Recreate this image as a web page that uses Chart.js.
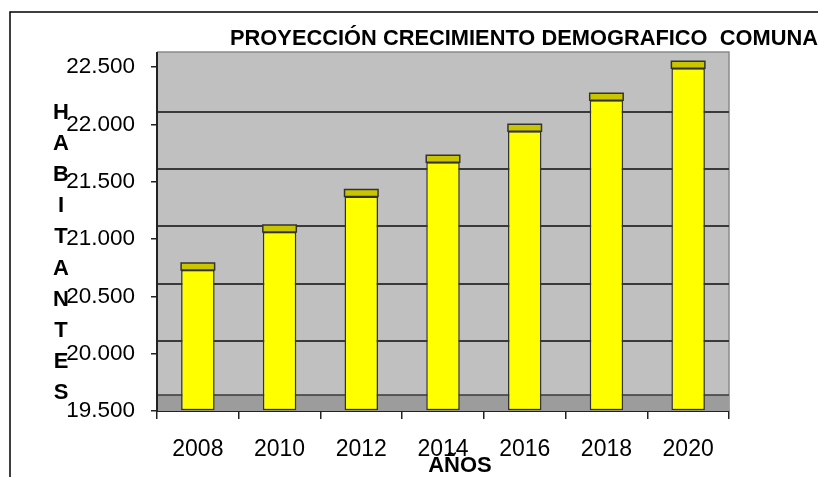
<!DOCTYPE html>
<html>
<head>
<meta charset="utf-8">
<script src="https://cdn.jsdelivr.net/npm/chart.js@4.4.1/dist/chart.umd.min.js"></script>
<style>
  html, body { margin: 0; padding: 0; background: #fff; }
  #wrap { position: relative; width: 818px; height: 477px; }
</style>
</head>
<body>
<div id="wrap"><canvas id="chart" width="818" height="477"></canvas></div>
<script>
// Data
const years = ['2008', '2010', '2012', '2014', '2016', '2018', '2020'];
const habitantes = [20730, 21060, 21370, 21670, 21940, 22210, 22490];
const yTicks = [19500, 20000, 20500, 21000, 21500, 22000, 22500];
const titleText = 'PROYECCIÓN CRECIMIENTO DEMOGRAFICO  COMUNA';
const yTitle = 'HABITANTES';
const xTitle = 'AÑOS';

const FONT = '"Liberation Sans", Arial, sans-serif';
const DARK = '#222';

// 22500 -> "22.500"
function fmt(v) {
    return String(v).replace(/\B(?=(\d{3})+(?!\d))/g, '.');
}

// Frame, back wall, gridlines and floor (3D look)
const wallPlugin = {
    id: 'wall',
    beforeDatasetsDraw(chart) {
        const ctx = chart.ctx;
        const area = chart.chartArea;
        const y = chart.scales.y;
        const top = y.getPixelForValue(yTicks[yTicks.length - 1]) - 15;
        const floorTop = y.getPixelForValue(yTicks[0]) - 16;
        const floorBottom = y.getPixelForValue(yTicks[0]);
        ctx.save();

        // outer frame
        ctx.strokeStyle = '#000';
        ctx.lineWidth = 1.5;
        ctx.beginPath();
        ctx.moveTo(10, chart.height);
        ctx.lineTo(10, 12);
        ctx.lineTo(chart.width, 12);
        ctx.stroke();

        // wall
        ctx.fillStyle = '#c0c0c0';
        ctx.fillRect(area.left, top, area.right - area.left, floorTop - top);
        ctx.strokeStyle = '#8a8a8a';
        ctx.lineWidth = 1.5;
        ctx.beginPath();
        ctx.moveTo(area.left, top);
        ctx.lineTo(area.right, top);
        ctx.lineTo(area.right, floorBottom);
        ctx.stroke();

        // gridlines on the back wall
        ctx.strokeStyle = '#3a3a3a';
        ctx.lineWidth = 2;
        yTicks.slice(1, -1).forEach(v => {
            const py = Math.round(y.getPixelForValue(v) - 12.7);
            ctx.beginPath();
            ctx.moveTo(area.left, py);
            ctx.lineTo(area.right, py);
            ctx.stroke();
        });

        // floor
        ctx.fillStyle = '#9c9c9c';
        ctx.fillRect(area.left, floorTop, area.right - area.left, floorBottom - floorTop);
        ctx.strokeStyle = '#3a3a3a';
        ctx.lineWidth = 1.5;
        ctx.beginPath();
        ctx.moveTo(area.left, floorTop);
        ctx.lineTo(area.right, floorTop);
        ctx.stroke();

        // left axis line up to the top of the wall
        ctx.strokeStyle = DARK;
        ctx.lineWidth = 2;
        ctx.beginPath();
        ctx.moveTo(area.left, top);
        ctx.lineTo(area.left, floorBottom);
        ctx.stroke();
        ctx.restore();
    },
    // darker cap on top of every bar
    afterDatasetsDraw(chart) {
        const ctx = chart.ctx;
        ctx.save();
        chart.getDatasetMeta(0).data.forEach(bar => {
            const w = bar.width;
            ctx.fillStyle = '#c9c600';
            ctx.strokeStyle = '#333';
            ctx.lineWidth = 1.5;
            ctx.beginPath();
            ctx.rect(bar.x - w / 2, bar.y - 7, w, 7);
            ctx.fill();
            ctx.stroke();
        });
        ctx.restore();
    },
    afterDraw(chart) {
        const ctx = chart.ctx;
        ctx.save();
        ctx.fillStyle = '#000';
        ctx.font = 'bold 22px ' + FONT;
        ctx.textBaseline = 'alphabetic';

        // chart title
        ctx.textAlign = 'left';
        ctx.fillText(titleText, 230, 45, 588);

        // vertical axis title, one letter per line
        ctx.font = 'bold 22px ' + FONT;
        ctx.textAlign = 'center';
        ctx.textBaseline = 'middle';
        yTitle.split('').forEach((ch, i) => {
            ctx.fillText(ch, 61, 113 + i * 31.1);
        });

        // horizontal axis title
        ctx.fillText(xTitle, 460, 466);
        ctx.restore();
    }
};

const ctx = document.getElementById('chart').getContext('2d');
new Chart(ctx, {
    type: 'bar',
    data: {
        labels: years,
        datasets: [{
            data: habitantes,
            base: yTicks[0],
            backgroundColor: '#ffff00',
            borderColor: '#333',
            borderWidth: 1.5,
            borderSkipped: false,
            categoryPercentage: 1,
            barPercentage: 0.41,
            clip: 2
        }]
    },
    options: {
        responsive: false,
        animation: false,
        layout: { padding: { top: 67, right: 89, bottom: 0, left: 0 } },
        plugins: {
            legend: { display: false },
            tooltip: { enabled: false }
        },
        scales: {
            x: {
                offset: true,
                grid: {
                    drawOnChartArea: false,
                    tickLength: 8,
                    color: DARK,
                    lineWidth: 1.5
                },
                border: { color: DARK, width: 2 },
                ticks: {
                    font: { family: FONT, size: 23 },
                    color: '#000',
                    padding: 17,
                    maxRotation: 0
                },
                afterFit: s => { s.height = 66; }
            },
            y: {
                min: yTicks[0],
                max: yTicks[yTicks.length - 1],
                grid: {
                    drawOnChartArea: false,
                    tickLength: 6,
                    color: DARK,
                    lineWidth: 1.5
                },
                border: { color: DARK, width: 2 },
                ticks: {
                    stepSize: 500,
                    font: { family: FONT, size: 22.5 },
                    color: '#000',
                    padding: 16,
                    callback: v => fmt(v)
                },
                afterFit: s => { s.width = 157; }
            }
        }
    },
    plugins: [wallPlugin]
});
</script>
</body>
</html>
